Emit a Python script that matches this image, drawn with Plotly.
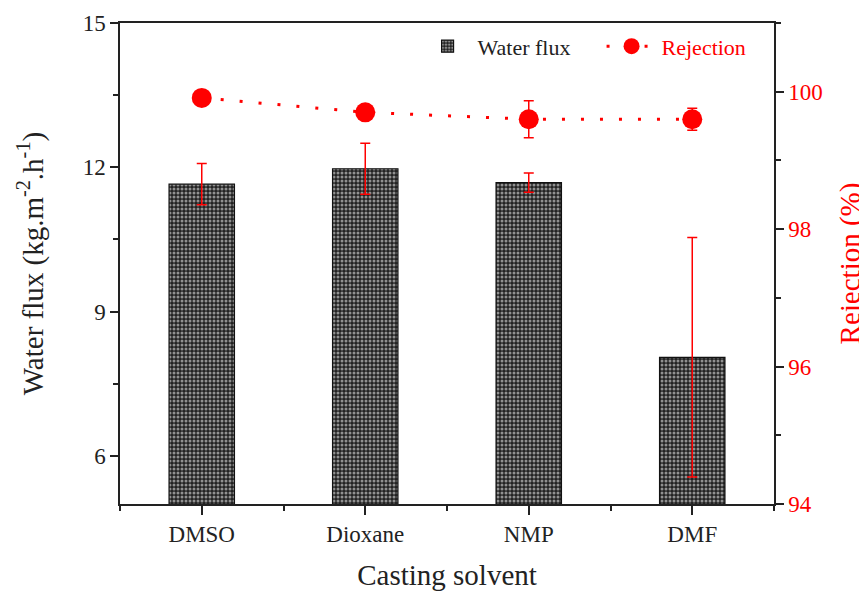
import plotly.graph_objects as go

categories = ["DMSO", "Dioxane", "NMP", "DMF"]
water_flux = [11.65, 11.97, 11.68, 8.05]
water_flux_err = [0.43, 0.53, 0.20, 2.49]
rejection = [99.91, 99.70, 99.60, 99.60]
rejection_err = [0.10, 0.10, 0.27, 0.16]

xpos = list(range(len(categories)))
FONT = "Liberation Serif, Times New Roman, serif"
RED = "#ff0000"

fig = go.Figure()
fig.add_trace(go.Bar(
    x=xpos, y=water_flux, name="Water flux", width=0.4,
    marker=dict(color="#222222", line=dict(color="#111", width=1.2),
                pattern=dict(shape=".", fgcolor="white", bgcolor="#222222", size=4, solidity=0.45)),
    error_y=dict(type="data", array=water_flux_err, color=RED, thickness=1.5, width=5),
))
fig.add_trace(go.Scatter(
    x=xpos, y=rejection, name="<span style='color:#ff0000'>Rejection</span>", yaxis="y2",
    mode="lines+markers",
    line=dict(color=RED, width=3, dash="3px,16px"),
    marker=dict(color=RED, size=20),
    error_y=dict(type="data", array=rejection_err, color=RED, thickness=1.5, width=5),
))

axis_common = dict(showgrid=False, zeroline=False, showline=True, linecolor="#222", linewidth=1.5,
                   ticks="outside", tickcolor="#222", tickwidth=1.5, automargin=False)

# page body has an 8px default margin, so the figure is sized to fit the window
fig.update_layout(
    width=859, height=583,
    margin=dict(l=112, r=93, t=15, b=87),
    plot_bgcolor="white", paper_bgcolor="white",
    font=dict(family=FONT, size=23, color="#222"),
    showlegend=True,
    legend=dict(orientation="h", x=0.455, y=0.995, xanchor="left", yanchor="top",
                bgcolor="rgba(0,0,0,0)", font=dict(size=22, family=FONT), itemwidth=50,
                entrywidth=119),
    xaxis=dict(**axis_common, mirror=True, range=[-0.5, 3.5], tickmode="array",
               tickvals=xpos, ticktext=categories, ticklen=9,
               minor=dict(ticks="outside", tickmode="linear", tick0=0.5, dtick=1, ticklen=5,
                          tickcolor="#222", tickwidth=1.5),
               title=dict(text="Casting solvent", font=dict(size=29, family=FONT), standoff=19)),
    yaxis=dict(**axis_common, range=[5, 15], tickmode="linear", tick0=6, dtick=3, ticklen=8,
               minor=dict(ticks="outside", tickmode="linear", tick0=6, dtick=1.5, ticklen=5,
                          tickcolor="#222", tickwidth=1.5),
               title=dict(text="Water flux (kg.m<sup>-2</sup>.h<sup>-1</sup>)",
                          font=dict(size=29, family=FONT), standoff=31)),
    yaxis2=dict(**axis_common, overlaying="y", side="right", range=[94, 101], tickmode="linear",
                tick0=94, dtick=2, ticklen=8, tickfont=dict(color=RED),
                minor=dict(ticks="outside", tickmode="linear", tick0=94, dtick=1, ticklen=5,
                           tickcolor="#222", tickwidth=1.5),
                title=dict(text="Rejection (%)", font=dict(size=29, family=FONT, color=RED), standoff=18)),
)

fig.write_html("out.html")
